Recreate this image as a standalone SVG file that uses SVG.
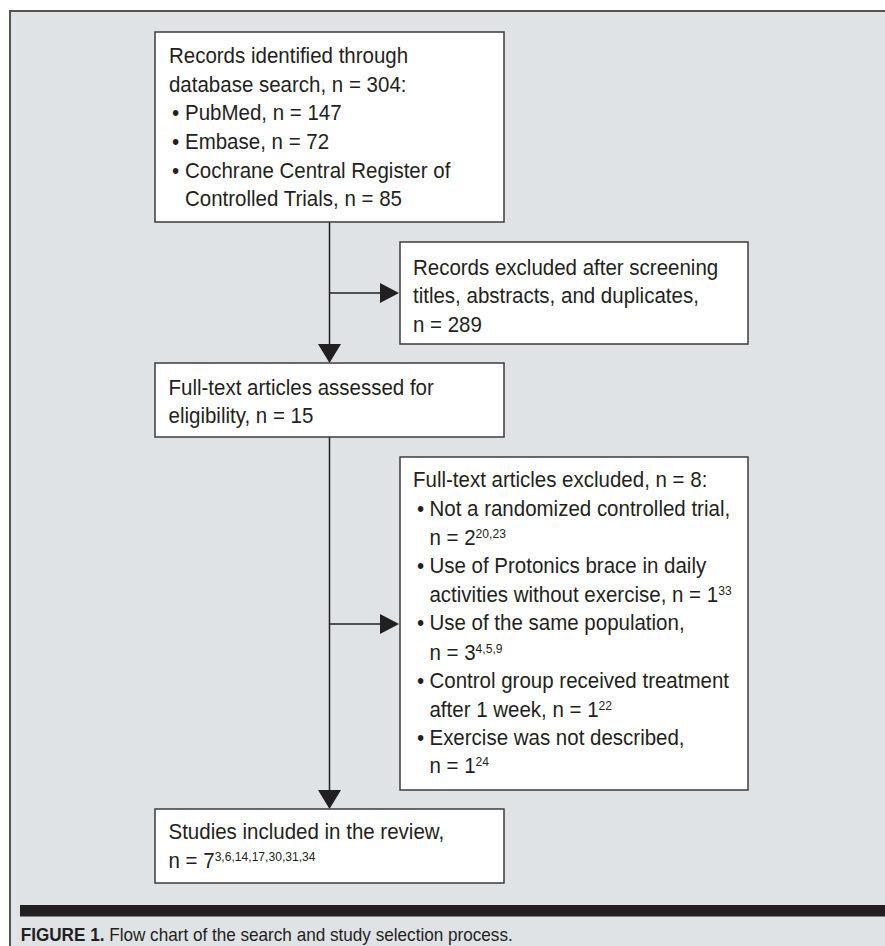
<svg xmlns="http://www.w3.org/2000/svg" width="885" height="946" viewBox="0 0 885 946">
<style>
  .box { fill: #ffffff; stroke: #3c3c3c; stroke-width: 1.5; }
  .t { font-family: "Liberation Sans", Arial, sans-serif; font-size: 22px; fill: #231f20; }
  .sup { font-size: 13px; }
  .line { stroke: #231f20; stroke-width: 1.5; fill: none; }
  .head { fill: #231f20; }
  .cap { font-family: "Liberation Sans", Arial, sans-serif; font-size: 19px; fill: #231f20; }
</style>
<rect x="0" y="0" width="885" height="946" fill="#ffffff"/>
<rect x="10" y="11" width="880" height="940" fill="#e0e3e6"/>
<path d="M10 946 V11 H890" fill="none" stroke="#555555" stroke-width="2"/>

<g id="connectors">
  <line class="line" x1="329.5" y1="222" x2="329.5" y2="345"/>
  <polygon class="head" points="318,344 341,344 329.5,363"/>
  <line class="line" x1="329.5" y1="293" x2="381" y2="293"/>
  <polygon class="head" points="380,283 380,303 399,293"/>
  <line class="line" x1="329.5" y1="437" x2="329.5" y2="791"/>
  <polygon class="head" points="318,790 341,790 329.5,809"/>
  <line class="line" x1="329.5" y1="624" x2="381" y2="624"/>
  <polygon class="head" points="380,614 380,634 399,624"/>
</g>

<g id="records-identified">
  <rect class="box" x="155" y="32" width="349" height="190"/>
  <g transform="scale(0.932 1)">
    <text class="t" x="181.3" y="63">Records identified through</text>
    <text class="t" x="181.3" y="91.7">database search, n = 304:</text>
    <text class="t" x="184.5" y="120.3">•</text>
    <text class="t" x="198.5" y="120.3">PubMed, n = 147</text>
    <text class="t" x="184.5" y="149">•</text>
    <text class="t" x="198.5" y="149">Embase, n = 72</text>
    <text class="t" x="184.5" y="177.7">•</text>
    <text class="t" x="198.5" y="177.7">Cochrane Central Register of</text>
    <text class="t" x="198.5" y="206.3">Controlled Trials, n = 85</text>
  </g>
</g>

<g id="records-excluded">
  <rect class="box" x="400" y="242" width="348" height="102"/>
  <g transform="scale(0.932 1)">
    <text class="t" x="443.1" y="275">Records excluded after screening</text>
    <text class="t" x="443.1" y="303.3">titles, abstracts, and duplicates,</text>
    <text class="t" x="443.1" y="331.7">n = 289</text>
  </g>
</g>

<g id="full-text-assessed">
  <rect class="box" x="155" y="363" width="349" height="74"/>
  <g transform="scale(0.932 1)">
    <text class="t" x="180.8" y="395">Full-text articles assessed for</text>
    <text class="t" x="180.8" y="423.3">eligibility, n = 15</text>
  </g>
</g>

<g id="full-text-excluded">
  <rect class="box" x="400" y="457" width="348" height="333"/>
  <g transform="scale(0.932 1)">
    <text class="t" x="443.1" y="486.7">Full-text articles excluded, n = 8:</text>
    <text class="t" x="447.4" y="516">•</text>
    <text class="t" x="460.8" y="516">Not a randomized controlled trial,</text>
    <text class="t" x="460.8" y="545">n = 2<tspan class="sup" dy="-7">20,23</tspan></text>
    <text class="t" x="447.4" y="573.3">•</text>
    <text class="t" x="460.8" y="573.3">Use of Protonics brace in daily</text>
    <text class="t" x="460.8" y="601.7">activities without exercise, n = 1<tspan class="sup" dy="-7">33</tspan></text>
    <text class="t" x="447.4" y="630">•</text>
    <text class="t" x="460.8" y="630">Use of the same population,</text>
    <text class="t" x="460.8" y="660">n = 3<tspan class="sup" dy="-7">4,5,9</tspan></text>
    <text class="t" x="447.4" y="688.3">•</text>
    <text class="t" x="460.8" y="688.3">Control group received treatment</text>
    <text class="t" x="460.8" y="716.7">after 1 week, n = 1<tspan class="sup" dy="-7">22</tspan></text>
    <text class="t" x="447.4" y="745">•</text>
    <text class="t" x="460.8" y="745">Exercise was not described,</text>
    <text class="t" x="460.8" y="773.3">n = 1<tspan class="sup" dy="-7">24</tspan></text>
  </g>
</g>

<g id="studies-included">
  <rect class="box" x="155" y="809" width="349" height="74"/>
  <g transform="scale(0.932 1)">
    <text class="t" x="180.8" y="839.3">Studies included in the review,</text>
    <text class="t" x="180.8" y="868.3">n = 7<tspan class="sup" dy="-7">3,6,14,17,30,31,34</tspan></text>
  </g>
</g>

<rect x="20" y="905" width="870" height="11.5" fill="#231f20"/>
<text class="cap" x="20.7" y="940.7" textLength="492" lengthAdjust="spacingAndGlyphs"><tspan font-weight="bold">FIGURE 1.</tspan> Flow chart of the search and study selection process.</text>
</svg>
